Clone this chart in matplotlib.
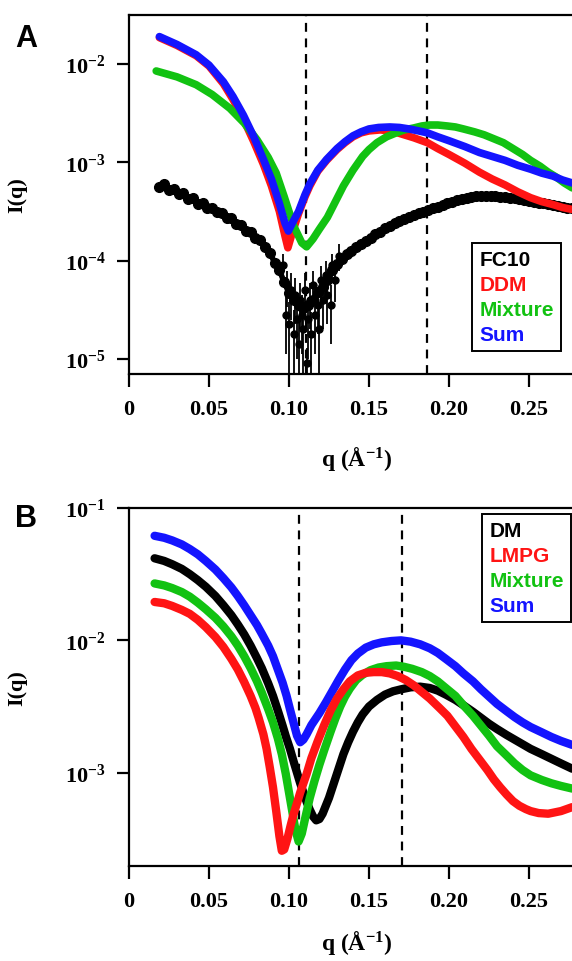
import numpy as np
import matplotlib.pyplot as plt
from matplotlib.lines import Line2D

plt.rcParams['font.family'] = ['Liberation Serif', 'DejaVu Serif']
plt.rcParams['font.weight'] = 'bold'
plt.rcParams['mathtext.fontset'] = 'custom'
plt.rcParams['mathtext.rm'] = 'Liberation Serif:bold'
plt.rcParams['mathtext.bf'] = 'Liberation Serif:bold'
plt.rcParams['mathtext.default'] = 'bf'

RED = '#ff1414'
GREEN = '#12c212'
BLUE = '#1414ff'

# ---------------- Panel A data (log10 I) ----------------
q_fc10 = [0.019, 0.022, 0.025, 0.028, 0.031, 0.034, 0.037, 0.040, 0.043, 0.046,
          0.049, 0.052, 0.055, 0.058, 0.061, 0.064, 0.067, 0.070, 0.073, 0.076,
          0.079, 0.082, 0.085, 0.088, 0.091, 0.094, 0.097, 0.100, 0.103, 0.106,
          0.109, 0.112, 0.115, 0.118, 0.121, 0.124, 0.127, 0.130, 0.133, 0.136,
          0.139, 0.142, 0.145, 0.148, 0.151, 0.154, 0.157, 0.160, 0.163, 0.166,
          0.169, 0.172, 0.175, 0.178, 0.181, 0.184, 0.187, 0.190, 0.193, 0.196,
          0.199, 0.202, 0.205, 0.208, 0.211, 0.214, 0.217, 0.220, 0.223, 0.226,
          0.229, 0.232, 0.235, 0.238, 0.241, 0.244, 0.247, 0.250, 0.253, 0.256,
          0.259, 0.262, 0.265, 0.268, 0.271, 0.274, 0.277]
logI_fc10 = [-3.25, -3.22, -3.28, -3.27, -3.32, -3.31, -3.37, -3.36, -3.42, -3.41,
             -3.47, -3.46, -3.51, -3.52, -3.57, -3.57, -3.63, -3.64, -3.70, -3.71,
             -3.77, -3.79, -3.86, -3.92, -4.02, -4.10, -4.22, -4.33, -4.40, -4.45,
             -4.48, -4.45, -4.40, -4.32, -4.27, -4.20, -4.10, -4.04, -3.98, -3.93,
             -3.90, -3.86, -3.83, -3.80, -3.77, -3.73, -3.71, -3.67, -3.65, -3.62,
             -3.60, -3.58, -3.56, -3.54, -3.52, -3.51, -3.49, -3.47, -3.45, -3.43,
             -3.41, -3.40, -3.38, -3.37, -3.36, -3.35, -3.34, -3.34, -3.34, -3.34,
             -3.34, -3.35, -3.35, -3.36, -3.36, -3.37, -3.38, -3.39, -3.40, -3.41,
             -3.41, -3.42, -3.43, -3.44, -3.45, -3.46, -3.47]

# noisy points around the minimum, with error bars (fraction of I)
q_fc10_min = [0.096, 0.098, 0.099, 0.100, 0.101, 0.103, 0.104, 0.105, 0.106, 0.107,
              0.108, 0.109, 0.110, 0.111, 0.112, 0.113, 0.114, 0.115, 0.116, 0.118,
              0.119, 0.120, 0.121, 0.123, 0.124, 0.126, 0.127, 0.129, 0.131]
logI_fc10_min = [-4.05, -4.55, -4.25, -4.65, -4.30, -4.75, -4.35, -4.60, -4.85, -4.40,
                 -4.55, -4.70, -4.30, -5.04, -4.60, -4.40, -4.75, -4.25, -4.55, -4.45,
                 -4.70, -4.20, -4.40, -4.15, -4.35, -4.45, -4.05, -4.20, -3.95]
err_fc10_min = [0.3, 0.6, 0.4, 0.7, 0.5, 0.75, 0.5, 0.6, 0.8, 0.5,
                0.6, 0.7, 0.5, 0.4, 0.6, 0.5, 0.7, 0.4, 0.6, 0.5,
                0.7, 0.4, 0.5, 0.4, 0.5, 0.6, 0.3, 0.4, 0.3]

q_ddm = [0.019, 0.030, 0.042, 0.050, 0.059, 0.065, 0.0715, 0.078, 0.084, 0.089,
         0.094, 0.0975, 0.0993, 0.102, 0.106, 0.110, 0.113, 0.118, 0.1235, 0.130,
         0.135, 0.140, 0.145, 0.150, 0.157, 0.164, 0.170, 0.178, 0.1865, 0.193,
         0.200, 0.210, 0.219, 0.227, 0.235, 0.243, 0.251, 0.258, 0.265, 0.271, 0.277]
logI_ddm = [-1.73, -1.81, -1.915, -2.02, -2.20, -2.36, -2.56, -2.79, -3.02, -3.24,
            -3.50, -3.75, -3.87, -3.72, -3.52, -3.35, -3.24, -3.09, -2.98, -2.87,
            -2.80, -2.74, -2.70, -2.68, -2.67, -2.68, -2.71, -2.75, -2.80, -2.86,
            -2.92, -3.01, -3.10, -3.17, -3.23, -3.30, -3.36, -3.40, -3.43, -3.46, -3.48]

q_mixA = [0.017, 0.030, 0.042, 0.052, 0.063, 0.072, 0.080, 0.087, 0.092, 0.097,
          0.103, 0.108, 0.111, 0.115, 0.119, 0.124, 0.129, 0.134, 0.140, 0.146,
          0.150, 0.155, 0.161, 0.167, 0.172, 0.178, 0.183, 0.188, 0.193, 0.199,
          0.204, 0.209, 0.216, 0.222, 0.228, 0.234, 0.240, 0.246, 0.251, 0.257,
          0.262, 0.267, 0.272, 0.277]
logI_mixA = [-2.07, -2.13, -2.21, -2.31, -2.45, -2.60, -2.77, -2.95, -3.11, -3.35,
             -3.65, -3.82, -3.86, -3.78, -3.68, -3.56, -3.40, -3.24, -3.08, -2.94,
             -2.87, -2.80, -2.74, -2.70, -2.67, -2.65, -2.63, -2.62, -2.62, -2.63,
             -2.64, -2.66, -2.69, -2.72, -2.76, -2.80, -2.86, -2.92, -2.98, -3.04,
             -3.10, -3.15, -3.21, -3.26]

q_sumA = [0.019, 0.030, 0.042, 0.050, 0.059, 0.065, 0.0715, 0.078, 0.084, 0.089,
          0.094, 0.0975, 0.0996, 0.102, 0.106, 0.110, 0.113, 0.118, 0.1235, 0.130,
          0.135, 0.140, 0.145, 0.150, 0.156, 0.163, 0.169, 0.175, 0.181, 0.1865,
          0.193, 0.200, 0.210, 0.219, 0.227, 0.235, 0.243, 0.251, 0.258, 0.265,
          0.271, 0.277]
logI_sumA = [-1.72, -1.80, -1.905, -2.01, -2.18, -2.33, -2.52, -2.74, -2.97, -3.17,
             -3.42, -3.62, -3.70, -3.62, -3.50, -3.33, -3.22, -3.08, -2.97, -2.86,
             -2.79, -2.73, -2.69, -2.66, -2.645, -2.64, -2.645, -2.66, -2.68, -2.70,
             -2.74, -2.78, -2.84, -2.90, -2.94, -2.98, -3.03, -3.07, -3.11, -3.14,
             -3.18, -3.21]

# ---------------- Panel B data (log10 I) ----------------
q_dm = [0.016, 0.022, 0.027, 0.033, 0.038, 0.043, 0.048, 0.054, 0.059, 0.064,
        0.068, 0.072, 0.076, 0.080, 0.083, 0.087, 0.090, 0.093, 0.096, 0.098,
        0.1006, 0.103, 0.105, 0.107, 0.109, 0.111, 0.113, 0.115, 0.117, 0.119,
        0.121, 0.123, 0.125, 0.128, 0.131, 0.134, 0.137, 0.140, 0.143, 0.146,
        0.150, 0.155, 0.160, 0.165, 0.170, 0.176, 0.182, 0.188, 0.193, 0.198,
        0.204, 0.209, 0.215, 0.220, 0.225, 0.230, 0.236, 0.241, 0.246, 0.251,
        0.258, 0.264, 0.270, 0.277]
logI_dm = [-1.38, -1.40, -1.425, -1.46, -1.50, -1.545, -1.595, -1.665, -1.735, -1.81,
           -1.88, -1.955, -2.04, -2.135, -2.21, -2.325, -2.42, -2.53, -2.645, -2.725,
           -2.82, -2.92, -3.00, -3.08, -3.15, -3.22, -3.28, -3.33, -3.36, -3.35,
           -3.31, -3.25, -3.19, -3.08, -2.97, -2.86, -2.77, -2.69, -2.62, -2.56,
           -2.50, -2.45, -2.41, -2.385, -2.37, -2.355, -2.35, -2.36, -2.38, -2.41,
           -2.45, -2.49, -2.54, -2.585, -2.63, -2.67, -2.715, -2.75, -2.785, -2.82,
           -2.86, -2.895, -2.93, -2.97]

q_lmpg = [0.016, 0.022, 0.027, 0.033, 0.038, 0.043, 0.048, 0.054, 0.059, 0.064,
          0.068, 0.072, 0.076, 0.079, 0.081, 0.084, 0.086, 0.088, 0.090, 0.092,
          0.094, 0.0955, 0.097, 0.099, 0.101, 0.1027, 0.105, 0.107, 0.111, 0.114,
          0.118, 0.122, 0.126, 0.130, 0.134, 0.138, 0.143, 0.148, 0.153, 0.158,
          0.163, 0.168, 0.173, 0.178, 0.183, 0.188, 0.194, 0.199, 0.204, 0.209,
          0.214, 0.219, 0.224, 0.228, 0.232, 0.236, 0.240, 0.244, 0.248, 0.251,
          0.256, 0.262, 0.270, 0.277]
logI_lmpg = [-1.71, -1.72, -1.74, -1.77, -1.80, -1.845, -1.90, -1.975, -2.05, -2.14,
             -2.22, -2.315, -2.42, -2.51, -2.585, -2.71, -2.82, -2.96, -3.11, -3.29,
             -3.48, -3.59, -3.58, -3.50, -3.40, -3.32, -3.23, -3.15, -3.01, -2.89,
             -2.76, -2.64, -2.53, -2.44, -2.37, -2.31, -2.265, -2.245, -2.24, -2.24,
             -2.25, -2.27, -2.30, -2.34, -2.39, -2.44, -2.51, -2.57, -2.65, -2.73,
             -2.82, -2.90, -2.98, -3.05, -3.11, -3.165, -3.215, -3.25, -3.275, -3.29,
             -3.305, -3.31, -3.29, -3.26]

q_mixB = [0.016, 0.022, 0.027, 0.033, 0.038, 0.043, 0.048, 0.054, 0.059, 0.064,
          0.068, 0.072, 0.076, 0.080, 0.083, 0.087, 0.090, 0.093, 0.0955, 0.098,
          0.100, 0.102, 0.104, 0.106, 0.108, 0.110, 0.113, 0.116, 0.119, 0.122,
          0.126, 0.129, 0.132, 0.135, 0.138, 0.142, 0.146, 0.151, 0.156, 0.161,
          0.167, 0.172, 0.177, 0.183, 0.188, 0.193, 0.198, 0.204, 0.209, 0.215,
          0.220, 0.225, 0.230, 0.236, 0.241, 0.246, 0.251, 0.258, 0.264, 0.270,
          0.277]
logI_mixB = [-1.57, -1.585, -1.605, -1.635, -1.67, -1.715, -1.765, -1.83, -1.895, -1.97,
             -2.04, -2.12, -2.21, -2.31, -2.395, -2.52, -2.62, -2.74, -2.86, -3.01,
             -3.15, -3.29, -3.43, -3.52, -3.46, -3.35, -3.19, -3.06, -2.94, -2.83,
             -2.69, -2.59, -2.50, -2.425, -2.365, -2.30, -2.26, -2.225, -2.205, -2.195,
             -2.19, -2.20, -2.215, -2.24, -2.27, -2.31, -2.36, -2.42, -2.49, -2.57,
             -2.645, -2.72, -2.80, -2.87, -2.93, -2.98, -3.02, -3.055, -3.08, -3.10,
             -3.12]

q_sumB = [0.016, 0.022, 0.027, 0.033, 0.038, 0.043, 0.048, 0.054, 0.059, 0.064,
          0.068, 0.072, 0.076, 0.080, 0.083, 0.087, 0.090, 0.093, 0.096, 0.0985,
          0.1006, 0.103, 0.105, 0.107, 0.109, 0.111, 0.114, 0.119, 0.123, 0.127,
          0.131, 0.135, 0.139, 0.143, 0.148, 0.153, 0.158, 0.164, 0.170, 0.176,
          0.182, 0.188, 0.193, 0.198, 0.204, 0.209, 0.215, 0.220, 0.225, 0.230,
          0.236, 0.241, 0.246, 0.251, 0.258, 0.264, 0.270, 0.277]
logI_sumB = [-1.21, -1.225, -1.245, -1.275, -1.31, -1.35, -1.40, -1.465, -1.53, -1.60,
             -1.665, -1.735, -1.81, -1.885, -1.95, -2.04, -2.12, -2.22, -2.32, -2.42,
             -2.52, -2.63, -2.72, -2.77, -2.75, -2.71, -2.64, -2.55, -2.47, -2.385,
             -2.30, -2.22, -2.15, -2.10, -2.055, -2.03, -2.015, -2.005, -2.00, -2.01,
             -2.03, -2.06, -2.095, -2.14, -2.195, -2.25, -2.31, -2.37, -2.425, -2.48,
             -2.535, -2.58, -2.62, -2.655, -2.695, -2.73, -2.76, -2.79]

dash_A = [0.1104, 0.1865]
dash_B = [0.1065, 0.1704]

xticks = [0, 0.05, 0.10, 0.15, 0.20, 0.25]
xticklabels = ['0', '0.05', '0.10', '0.15', '0.20', '0.25']


def p10(v):
    return 10.0 ** np.array(v)


fig = plt.figure(figsize=(5.72, 9.62), dpi=100)
axA = fig.add_axes([129/572, 1-375/962, (585-129)/572, (375-16)/962])
axB = fig.add_axes([129/572, 1-867/962, (585-129)/572, (867-509)/962])


def style(ax, ylim, yticks, xpad):
    ax.set_yscale('log')
    ax.set_xlim(0, 0.285)
    ax.set_ylim(*ylim)
    ax.set_xticks(xticks)
    ax.set_xticklabels(xticklabels)
    ax.set_yticks([10.0**k for k in yticks])
    ax.set_yticklabels([r'$10^{%d}$' % k for k in yticks])
    ax.minorticks_off()
    ax.tick_params(direction='out', length=9, width=1.6, labelsize=16)
    ax.tick_params(axis='x', pad=9)
    ax.tick_params(axis='y', pad=8)
    ax.spines['right'].set_visible(False)
    for s in ['left', 'top', 'bottom']:
        ax.spines[s].set_linewidth(1.6)
    ax.set_ylabel('I(q)', fontsize=16, fontweight='bold')
    ax.yaxis.set_label_coords(-0.224, 0.5)
    ax.set_xlabel(r'q (Å$^{-1}$)', fontsize=17, fontweight='bold', labelpad=xpad)


# Panel A
for xv in dash_A:
    axA.axvline(xv, color='black', lw=1.6, ls=(0, (4, 3)), zorder=1)
axA.errorbar(q_fc10_min, p10(logI_fc10_min), yerr=np.array(err_fc10_min) * p10(logI_fc10_min),
             fmt='o', color='black', ms=5, elinewidth=1.3, capsize=0, zorder=2)
axA.plot(q_fc10, p10(logI_fc10), 'o-', color='black', ms=7, lw=4, zorder=2)
axA.plot(q_ddm, p10(logI_ddm), color=RED, lw=5.5, solid_capstyle='round',
         solid_joinstyle='round', zorder=3)
axA.plot(q_mixA, p10(logI_mixA), color=GREEN, lw=5.5, solid_capstyle='round',
         solid_joinstyle='round', zorder=4)
axA.plot(q_sumA, p10(logI_sumA), color=BLUE, lw=5.5, solid_capstyle='round',
         solid_joinstyle='round', zorder=5)
style(axA, (10**-5.155, 10**-1.5), [-5, -4, -3, -2], 18)

# Panel B
for xv in dash_B:
    axB.axvline(xv, color='black', lw=1.6, ls=(0, (4, 3)), zorder=1)
axB.plot(q_dm, p10(logI_dm), color='black', lw=6, solid_capstyle='round',
         solid_joinstyle='round', zorder=2)
axB.plot(q_sumB, p10(logI_sumB), color=BLUE, lw=6, solid_capstyle='round',
         solid_joinstyle='round', zorder=3)
axB.plot(q_mixB, p10(logI_mixB), color=GREEN, lw=6, solid_capstyle='round',
         solid_joinstyle='round', zorder=4)
axB.plot(q_lmpg, p10(logI_lmpg), color=RED, lw=6, solid_capstyle='round',
         solid_joinstyle='round', zorder=5)
style(axB, (10**-3.705, 10**-1), [-3, -2, -1], 12)


def add_legend(ax, labels, colors, anchor):
    handles = [Line2D([], [], color='none') for _ in labels]
    leg = ax.legend(handles, labels, loc='upper left', bbox_to_anchor=anchor,
                    bbox_transform=fig.transFigure, handlelength=0, handletextpad=0,
                    frameon=True, fancybox=False, framealpha=1, edgecolor='black',
                    borderpad=0.35, labelspacing=0.28, borderaxespad=0,
                    prop={'family': 'Liberation Sans', 'weight': 'bold', 'size': 15})
    leg.get_frame().set_linewidth(1.4)
    for t, c in zip(leg.get_texts(), colors):
        t.set_color(c)


add_legend(axA, ['FC10', 'DDM', 'Mixture', 'Sum'], ['black', RED, GREEN, BLUE],
           (472/572, 1-244/962))
add_legend(axB, ['DM', 'LMPG', 'Mixture', 'Sum'], ['black', RED, GREEN, BLUE],
           (482/572, 1-515/962))

fig.text(15/572, 1-47/962, 'A', fontsize=22, fontweight='bold', family='Liberation Sans')
fig.text(15/572, 1-527/962, 'B', fontsize=22, fontweight='bold', family='Liberation Sans')

fig.savefig('out.png', dpi=100)
